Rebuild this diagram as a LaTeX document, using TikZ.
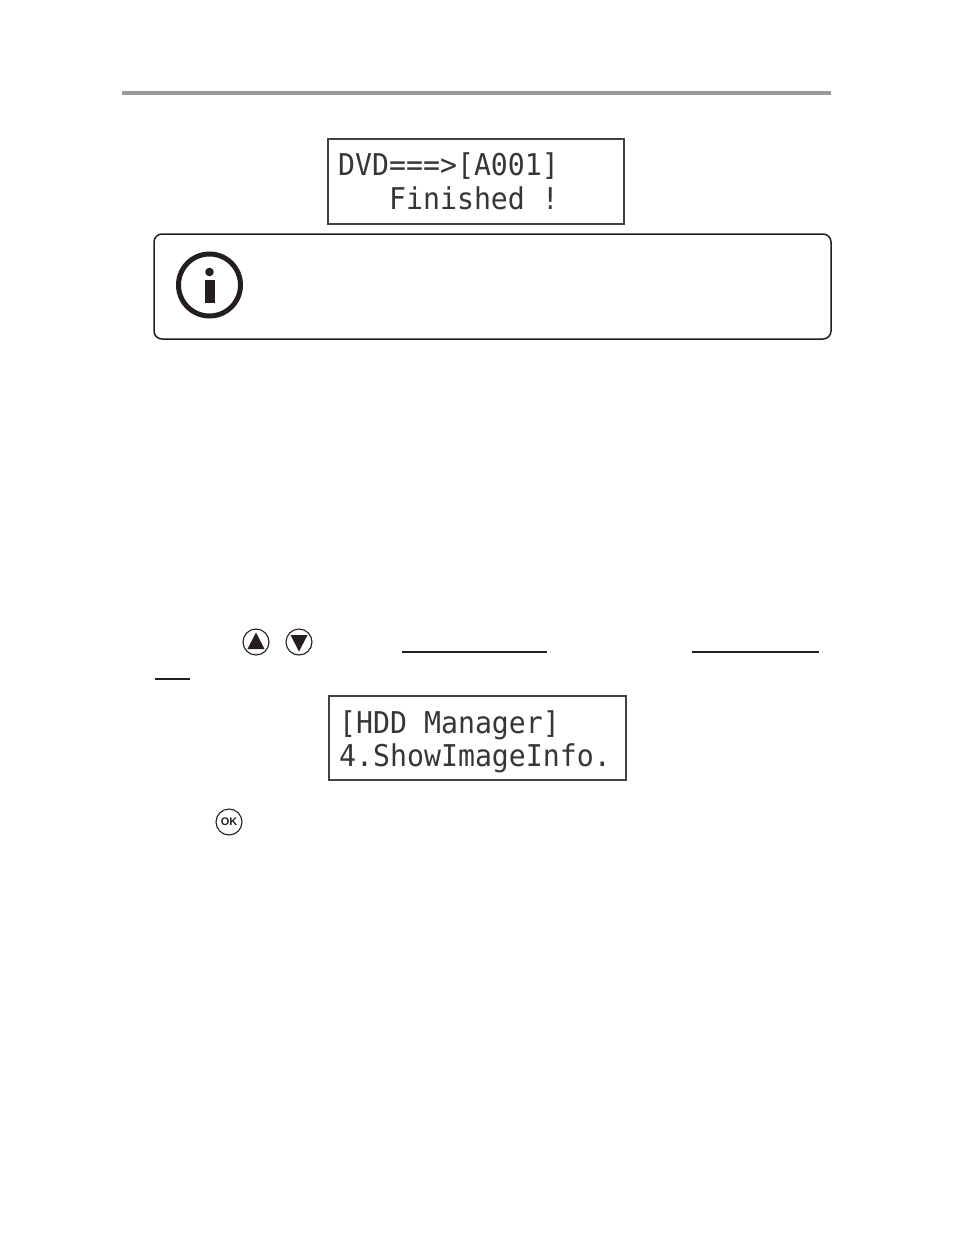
\documentclass[tikz,border=0pt]{standalone}
\usepackage{fontspec}
\setmainfont{Liberation Sans}
\newfontfamily\lcdfont{DejaVu Sans Mono}
\definecolor{ink}{HTML}{231F20}
\definecolor{rulegray}{HTML}{999A9C}
\tikzset{
  lcdbox/.style={draw=ink!85,line width=1.5pt,fill=white},
  lcdtext/.style={anchor=base west,inner sep=0pt,text=ink!90,xscale=0.94,transform shape,font=\lcdfont\fontsize{30}{30}\selectfont},
  rulepen/.style={draw=ink,line width=2pt},
  btn/.style={draw=ink,line width=1.1pt,fill=white,circle,minimum size=26pt,inner sep=0pt},
}
\begin{document}
\begin{tikzpicture}[x=1pt,y=-1pt]
\useasboundingbox (0,0) rectangle (954,1235);
% header rule
\fill[rulegray] (122,90.5) rectangle (831,95);
% first display
\draw[lcdbox] (328,139) rectangle (624,224);
\node[lcdtext] (l1) at (338,175) {DVD===>[A001]};
\node[lcdtext] (l2) at (338,209) {\ \ \ Finished !};
% note box
\draw[draw=ink,line width=1.5pt,rounded corners=8pt] (154,234) rectangle (831,339);
\draw[draw=ink,line width=5pt] (209.5,285) circle (31);
\fill[ink] (209.5,272) circle (4.3);
\fill[ink] (205,280) rectangle (214.5,303);
% arrow buttons
\node[btn] (up) at (256,642) {};
\fill[ink] (256,632.5) -- (264.5,649) -- (247.5,649) -- cycle;
\node[btn] (down) at (299,642) {};
\fill[ink] (299,651.5) -- (307.5,635) -- (290.5,635) -- cycle;
% underlines
\draw[rulepen] (402,652) -- (547,652);
\draw[rulepen] (692,652) -- (819,652);
\draw[draw=ink,line width=1.5pt] (155,679) -- (190,679);
% second display
\draw[lcdbox] (329,696) rectangle (626,780);
\node[lcdtext] (m1) at (339,733) {[HDD Manager]};
\node[lcdtext] (m2) at (339,766) {4.ShowImageInfo.};
% ok button
\node[btn,font=\bfseries\fontsize{11}{11}\selectfont,text=ink] (ok) at (229,822) {OK};
\end{tikzpicture}
\end{document}
